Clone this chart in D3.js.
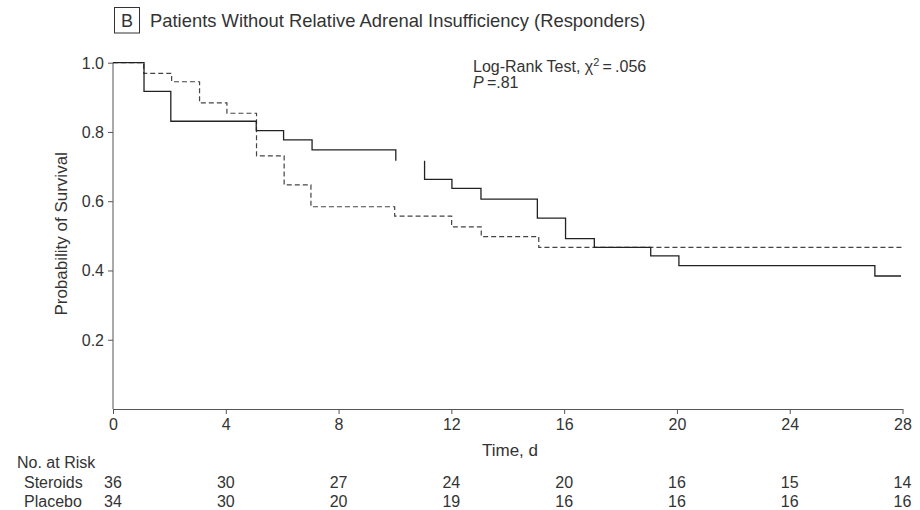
<!DOCTYPE html>
<html>
<head>
<meta charset="utf-8">
<script src="https://cdn.jsdelivr.net/npm/d3@7"></script>
<style>
  body { margin: 0; background: #fff; }
  svg { font-family: "Liberation Sans", Arial, sans-serif; }
</style>
</head>
<body>
<svg id="chart" width="920" height="510"></svg>
<script>
// Kaplan-Meier steps: time of drop, survival after the drop
const steroidTimes = [0, 1.1, 2.05, 5.08, 6.05, 7.06, 10.03];
const steroidSurv  = [1, 0.917, 0.831, 0.804, 0.777, 0.748, 0.717];
// second piece of the steroid curve (the picture leaves a gap between day 10 and 11)
const steroidTimes2 = [11.05, 11.05, 12.02, 13.05, 15.05, 16.05, 17.07, 19.07, 20.07, 27.02, 27.95];
const steroidSurv2  = [0.717, 0.663, 0.637, 0.606, 0.551, 0.492, 0.467, 0.442, 0.414, 0.384, 0.384];

const placeboTimes = [0, 1.09, 2.08, 3.07, 4.04, 5.09, 6.07, 7.02, 9.99, 12.01, 13.06, 15.1, 28];
const placeboSurv  = [1, 0.969, 0.945, 0.884, 0.854, 0.731, 0.647, 0.584, 0.557, 0.526, 0.498, 0.467, 0.467];

const xTicks = [0, 4, 8, 12, 16, 20, 24, 28];
const yTicks = [0.2, 0.4, 0.6, 0.8, 1.0];
const steroidsAtRisk = [36, 30, 27, 24, 20, 16, 15, 14];
const placeboAtRisk  = [34, 30, 20, 19, 16, 16, 16, 16];

const svg = d3.select("#chart");
const ink = "#333";

const x = d3.scaleLinear().domain([0, 28]).range([113, 902.5]);
const y = d3.scaleLinear().domain([0, 1]).range([409, 62.7]);

// y axis
const yAxis = svg.append("g")
  .attr("transform", `translate(${x(0)},0)`)
  .call(d3.axisLeft(y).tickValues(yTicks).tickFormat(d3.format(".1f")).tickSize(5).tickSizeOuter(0));
yAxis.select(".domain").attr("stroke", "#555").attr("d", `M0,${y(0)}V${y(1)}`);

// x axis
const xAxis = svg.append("g")
  .attr("transform", `translate(0,${y(0)})`)
  .call(d3.axisBottom(x).tickValues(xTicks).tickSize(5).tickSizeOuter(0));
xAxis.select(".domain").attr("stroke", "#555");

svg.selectAll(".tick line").attr("stroke", "#555");
svg.selectAll(".tick text")
  .attr("fill", "#333")
  .style("font-size", "16px");
yAxis.selectAll(".tick text").attr("x", -9).attr("dy", "0.34em");
xAxis.selectAll(".tick text").attr("y", 10);

// axis titles
svg.append("text")
  .attr("transform", `translate(67,${y(0.5) - 2}) rotate(-90)`)
  .attr("text-anchor", "middle")
  .attr("fill", ink)
  .style("font-size", "17px")
  .text("Probability of Survival");

svg.append("text")
  .attr("x", 510).attr("y", 456)
  .attr("text-anchor", "middle")
  .attr("fill", ink)
  .style("font-size", "17px")
  .text("Time, d");

// curves
const line = d3.line()
  .x(d => x(d[0]))
  .y(d => y(d[1]))
  .curve(d3.curveStepAfter);

svg.append("path")
  .datum(d3.zip(placeboTimes, placeboSurv))
  .attr("d", line)
  .attr("fill", "none")
  .attr("stroke", "#444")
  .attr("stroke-width", 1.2)
  .attr("stroke-dasharray", "5,3");

[d3.zip(steroidTimes, steroidSurv), d3.zip(steroidTimes2, steroidSurv2)].forEach(seg => {
  svg.append("path")
    .datum(seg)
    .attr("d", line)
    .attr("fill", "none")
    .attr("stroke", "#222")
    .attr("stroke-width", 1.3);
});

// panel title
svg.append("rect")
  .attr("x", 114.5).attr("y", 7.5)
  .attr("width", 25).attr("height", 25.5)
  .attr("fill", "none")
  .attr("stroke", "#333");
svg.append("text")
  .attr("x", 127).attr("y", 27)
  .attr("text-anchor", "middle")
  .attr("fill", ink)
  .style("font-size", "18px")
  .text("B");
svg.append("text")
  .attr("x", 150).attr("y", 27)
  .attr("fill", ink)
  .style("font-size", "18.4px")
  .text("Patients Without Relative Adrenal Insufficiency (Responders)");

// test annotation
const note = svg.append("text")
  .attr("x", 473).attr("y", 71.5)
  .attr("fill", ink)
  .style("font-size", "16px");
note.append("tspan").text("Log-Rank Test, \u03c7");
note.append("tspan").attr("dy", -6).style("font-size", "11px").text("2");
note.append("tspan").attr("dy", 6).text("\u2009=\u2009.056");

const note2 = svg.append("text")
  .attr("x", 473).attr("y", 88)
  .attr("fill", ink)
  .style("font-size", "16px");
note2.append("tspan").style("font-style", "italic").text("P");
note2.append("tspan").text("\u2009=.81");

// number at risk table
svg.append("text")
  .attr("x", 17).attr("y", 468)
  .attr("fill", ink)
  .style("font-size", "16px")
  .text("No. at Risk");

const rows = [
  { label: "Steroids", values: steroidsAtRisk, y: 488 },
  { label: "Placebo", values: placeboAtRisk, y: 507 }
];
rows.forEach(r => {
  const g = svg.append("g");
  g.append("text")
    .attr("x", 24).attr("y", r.y)
    .attr("fill", ink)
    .style("font-size", "16px")
    .text(r.label);
  g.selectAll(".n")
    .data(r.values)
    .enter()
    .append("text")
    .attr("x", (d, i) => x(xTicks[i]))
    .attr("y", r.y)
    .attr("text-anchor", "middle")
    .attr("fill", ink)
    .style("font-size", "16px")
    .text(d => d);
});
</script>
</body>
</html>
